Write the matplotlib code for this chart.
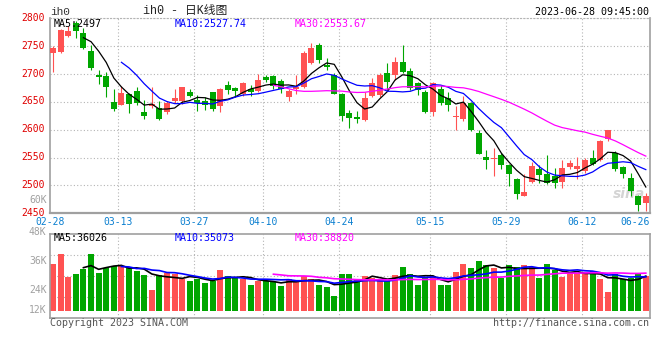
import numpy as np
import pandas as pd
import matplotlib
matplotlib.use("Agg")
import matplotlib.pyplot as plt
from matplotlib.transforms import ScaledTranslation

plt.rcParams['font.family'] = ['DejaVu Sans Mono', 'Noto Sans CJK SC']

# ---------------- data ----------------
tick_labels = ['02-28', '03-13', '03-27', '04-10', '04-24', '05-15', '05-29', '06-12', '06-26']
tick_index = [0, 9, 19, 28, 38, 50, 60, 70, 78]

opens = [2738, 2739, 2768, 2792, 2774, 2741, 2699, 2696, 2649, 2645,
         2664, 2670, 2632, 2643, 2639, 2631, 2652, 2651, 2667, 2654,
         2651, 2667, 2642, 2680, 2674, 2665, 2673, 2670, 2695, 2697,
         2688, 2658, 2674, 2677, 2720, 2752, 2717, 2698, 2665, 2630,
         2623, 2618, 2661, 2662, 2701, 2698, 2722, 2705, 2683, 2668,
         2631, 2673, 2657, 2623, 2619, 2648, 2595, 2551, 2548, 2554,
         2537, 2511, 2481, 2506, 2529, 2520, 2517, 2506, 2534, 2530,
         2526, 2549, 2546, 2584, 2558, 2533, 2514, 2481, 2468]
highs = [2750, 2780, 2786, 2796, 2782, 2752, 2707, 2704, 2673, 2679,
         2666, 2676, 2654, 2676, 2652, 2652, 2673, 2676, 2673, 2662,
         2659, 2668, 2675, 2688, 2676, 2686, 2680, 2700, 2699, 2699,
         2691, 2674, 2699, 2741, 2756, 2755, 2729, 2702, 2666, 2636,
         2634, 2667, 2692, 2701, 2719, 2730, 2752, 2710, 2686, 2671,
         2686, 2680, 2668, 2642, 2661, 2650, 2600, 2564, 2567, 2558,
         2539, 2514, 2520, 2542, 2536, 2555, 2532, 2546, 2546, 2551,
         2550, 2564, 2582, 2600, 2561, 2535, 2523, 2482, 2487]
lows = [2704, 2737, 2766, 2764, 2745, 2707, 2682, 2659, 2634, 2644,
        2630, 2645, 2620, 2639, 2618, 2629, 2648, 2647, 2659, 2633,
        2636, 2634, 2631, 2664, 2658, 2661, 2661, 2668, 2686, 2674,
        2666, 2652, 2665, 2675, 2718, 2720, 2707, 2664, 2615, 2603,
        2612, 2615, 2659, 2659, 2671, 2689, 2702, 2671, 2662, 2630,
        2624, 2645, 2633, 2600, 2616, 2598, 2557, 2529, 2517, 2529,
        2499, 2475, 2481, 2505, 2504, 2502, 2496, 2496, 2529, 2511,
        2523, 2537, 2543, 2580, 2526, 2514, 2481, 2454, 2454]
closes = [2747, 2779, 2777, 2777, 2746, 2711, 2694, 2676, 2637, 2666,
          2646, 2648, 2624, 2646, 2620, 2648, 2657, 2676, 2661, 2648,
          2645, 2637, 2673, 2671, 2670, 2684, 2668, 2689, 2690, 2679,
          2674, 2670, 2677, 2737, 2747, 2725, 2713, 2665, 2624, 2621,
          2619, 2657, 2683, 2698, 2686, 2722, 2704, 2675, 2671, 2631,
          2683, 2648, 2645, 2624, 2648, 2600, 2557, 2546, 2550, 2536,
          2520, 2484, 2489, 2534, 2518, 2505, 2505, 2532, 2540, 2534,
          2546, 2539, 2579, 2600, 2530, 2520, 2490, 2465, 2481]
volumes = [48100, 58700, 35000, 38500, 42900, 58700, 39500, 44000, 46400, 46400,
           44000, 41500, 37100, 21600, 37100, 38800, 37800, 32700, 30900, 33000,
           29200, 30900, 42200, 36100, 34300, 32700, 26800, 31200, 30900, 30200,
           25700, 32700, 31200, 36100, 32700, 26800, 24800, 15400, 38500, 38500,
           31900, 36100, 34300, 30900, 30900, 37100, 45700, 38500, 26800, 33600,
           36400, 26800, 26800, 40200, 48400, 44300, 51600, 47700, 44600, 33600,
           47700, 45300, 47700, 45300, 34300, 48400, 42200, 35000, 38800, 38800,
           38800, 41300, 33000, 19600, 37800, 32700, 34300, 38500, 36400]

price_ticks = [2450, 2500, 2550, 2600, 2650, 2700, 2750, 2800]
vol_labels = ['60K', '48K', '36K', '24K', '12K']

# ---------------- styling ----------------
W, H = 660, 360
RED = '#ff5252'
GREEN = '#00a600'
GRID = '#b4b4b4'
BORDER = '#a0a0a0'
FS = 7.0

fig = plt.figure(figsize=(W / 100, H / 100), dpi=100)
fig.patch.set_facecolor('white')


def fx(px):
    return px / W


def fy(py):
    return 1 - py / H


def ptext(x, y, s, **kw):
    fig.text(fx(x), fy(y), s, **kw)


# axes placement (pixels)
pl, pr = 50, 650
p_top, p_bot = 18.3, 213.3
v_top, v_bot = 234.3, 318.3

ax = fig.add_axes([fx(pl), fy(p_bot), (pr - pl) / W, (p_bot - p_top) / H])
axv = fig.add_axes([fx(pl), fy(v_bot), (pr - pl) / W, (v_bot - v_top) / H])

n = len(closes)
x = np.arange(n)
o = np.array(opens, float)
c = np.array(closes, float)
h = np.array(highs, float)
l = np.array(lows, float)
v = np.array(volumes, float)
up = c >= o
cols = np.where(up, RED, GREEN)

xlim = (-0.4, 78.55)
bw = 0.79

# ---- price panel ----
ax.set_xlim(*xlim)
ax.set_ylim(2450, 2800)
for yv in price_ticks[1:]:
    ax.axhline(yv, color=GRID, lw=0.8, ls=(0, (1, 2)), zorder=0)
grid_x = [i - 0.4 for i in tick_index[1:-1]]
for gx in grid_x:
    ax.axvline(gx, color=GRID, lw=0.8, ls=(0, (1, 2)), zorder=0)

ax.vlines(x, l, h, colors=cols, lw=0.8, zorder=2)
body_h = np.maximum(np.abs(c - o), 1.6)
ax.bar(x, body_h, bottom=np.minimum(o, c), width=bw, color=cols, zorder=3, linewidth=0)

cs = pd.Series(c)
ax.plot(x, cs.rolling(5).mean(), color='black', lw=0.9, zorder=4)
ax.plot(x, cs.rolling(10).mean(), color='#0000ff', lw=0.9, zorder=4)
ax.plot(x, cs.rolling(30).mean(), color='#ff00ff', lw=0.9, zorder=4)

ax.set_yticks(price_ticks)
ax.set_yticklabels([str(t) for t in price_ticks], color='#e00000', fontsize=FS)
ax.tick_params(axis='y', length=0, pad=3.5)
up_shift = ScaledTranslation(0, 1.5 / 100, fig.dpi_scale_trans)
for lab in ax.get_yticklabels():
    lab.set_transform(lab.get_transform() + up_shift)

ax.set_xticks([i - 0.4 for i in tick_index[:-1]] + [xlim[1]])
ax.set_xticklabels(tick_labels, color='#0a7fd0', fontsize=FS)
ax.tick_params(axis='x', length=0, pad=2.7)
ax.get_xticklabels()[-1].set_ha('right')

for s in ['left', 'right']:
    ax.spines[s].set_color(BORDER)
    ax.spines[s].set_linewidth(1.2)
ax.spines['bottom'].set_color(BORDER)
ax.spines['bottom'].set_linewidth(1.6)
ax.spines['top'].set_color(GRID)
ax.spines['top'].set_linewidth(0.8)
ax.spines['top'].set_linestyle((0, (1, 2)))

ax.text(0.965, 0.1, 'sina', transform=ax.transAxes, fontsize=10, fontstyle='italic',
        fontweight='bold', color='#d4d4d4', zorder=1, family='DejaVu Sans',
        ha='center', va='center')

# legends in price panel
ptext(54, 24, 'MA5:2497', color='black', fontsize=7.2, va='center')
ptext(175, 24, 'MA10:2527.74', color='#0000ff', fontsize=7.2, va='center')
ptext(295, 24, 'MA30:2553.67', color='#ff00ff', fontsize=7.2, va='center')

# ---- volume panel ----
vmin, vmax = -7519, 79000
axv.set_xlim(*xlim)
axv.set_ylim(vmin, vmax)
for f in [0.25, 0.5, 0.75]:
    axv.axhline(vmin + f * (vmax - vmin), color=GRID, lw=0.8, ls=(0, (1, 2)), zorder=0)
for gx in grid_x:
    axv.axvline(gx, color=GRID, lw=0.8, ls=(0, (1, 2)), zorder=0)
axv.bar(x, v, width=bw, color=cols, zorder=2, linewidth=0)
vs = pd.Series(v)
axv.plot(x, vs.rolling(5).mean(), color='black', lw=1.2, zorder=3)
axv.plot(x, vs.rolling(10).mean(), color='#0000ff', lw=1.2, zorder=3)
axv.plot(x, vs.rolling(30).mean(), color='#ff00ff', lw=1.2, zorder=3)
axv.set_xticks([])
axv.set_yticks([])
for s in axv.spines.values():
    s.set_color(BORDER)
    s.set_linewidth(1.2)

ptext(54, 238, 'MA5:36026', color='black', fontsize=7.2, va='center')
ptext(175, 238, 'MA10:35073', color='#0000ff', fontsize=7.2, va='center')
ptext(295, 238, 'MA30:38820', color='#ff00ff', fontsize=7.2, va='center')

# volume axis labels (as drawn by the source chart)
for lab, yy in zip(vol_labels, [200, 231.9, 261, 290, 310]):
    ptext(46.5, yy, lab, color='#a0a0a0', fontsize=FS, ha='right', va='center')

# ---- header / footer ----
ptext(50, 12, 'ih0', color='#333333', fontsize=8, va='center', family='Liberation Mono')
ptext(185, 11, 'ih0 - 日K线图', color='#222222', fontsize=8.5, ha='center', va='center',
      family=['Liberation Mono', 'Noto Sans CJK SC'])
ptext(649, 12, '2023-06-28 09:45:00', color='black', fontsize=7.2, ha='right', va='center')
ptext(50, 323.5, 'Copyright 2023 SINA.COM', color='#555555', fontsize=7.2, va='center')
ptext(649, 323.5, 'http://finance.sina.com.cn', color='#555555', fontsize=7.2, ha='right', va='center')

fig.savefig('out.png', dpi=100, facecolor='white')
